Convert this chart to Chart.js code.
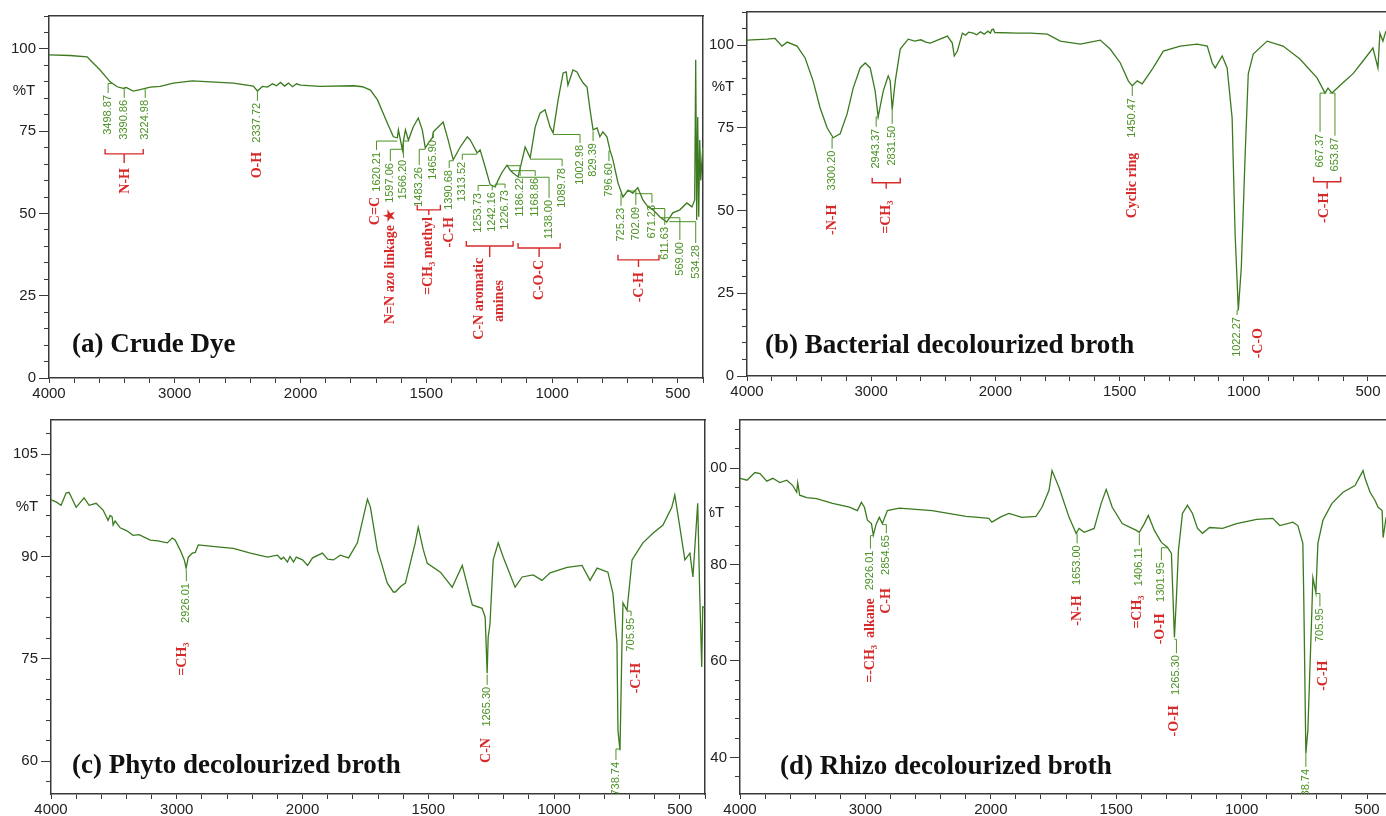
<!DOCTYPE html>
<html>
<head>
<meta charset="utf-8">
<script src="https://cdn.jsdelivr.net/npm/chart.js@4.4.0/dist/chart.umd.min.js"></script>
<style>
  body { margin: 0; background: #fff; width: 1386px; height: 816px; overflow: hidden; position: relative; }
  .panel { position: absolute; }
</style>
</head>
<body>
<div class="panel" style="left:0;top:0;z-index:2"><canvas id="ca" width="706" height="405"></canvas></div>
<div class="panel" style="left:706px;top:0;z-index:1"><canvas id="cb" width="680" height="405"></canvas></div>
<div class="panel" style="left:0;top:408px;z-index:3;background:#fff"><canvas id="cc" width="709" height="408"></canvas></div>
<div class="panel" style="left:690px;top:408px;z-index:1"><canvas id="cd" width="696" height="408"></canvas></div>
<script>
// FTIR spectra: wavenumber (cm-1) and %T
var crudeWn = [4000,3833,3697,3657,3594,3514,3458,3410,3386,3331,3275,3195,3116,3012,2861,2717,2534,2375,2343,2303,2263,2223,2191,2159,2127,2096,2064,2032,2000,1921,1790,1754,1722,1694,1655,1631,1615,1611,1595,1591,1583,1571,1552,1532,1516,1504,1492,1476,1472,1433,1413,1393,1365,1337,1325,1298,1286,1266,1246,1226,1214,1198,1179,1167,1155,1135,1119,1107,1087,1067,1048,1028,1008,996,976,956,944,937,917,901,889,877,861,849,837,821,810,798,782,770,758,738,718,698,679,659,639,619,599,571,544,520,492,464,444,433,429,425,421,417,413,409,401]
var crudeT = [98.2,98.0,97.6,96.0,93.6,90.0,88.5,88.0,88.3,87.2,87.6,88.4,88.6,89.6,90.3,90.0,89.6,88.7,87.2,88.6,88.4,89.4,88.8,89.8,88.7,89.6,88.5,89.4,89.0,88.6,88.8,88.5,87.5,84.5,77.5,73.3,73.0,75.4,69.3,72.0,75.4,72.3,76.3,79.0,75.4,69.9,71.4,73.0,74.8,77.8,72.3,66.3,70.2,73.3,72.3,68.4,69.3,64.1,58.7,58.1,60.2,62.6,64.7,63.2,62.3,61.1,66.3,70.2,66.9,76.3,80.5,81.5,76.3,74.5,84.5,92.7,93.0,89.0,93.6,93.0,91.2,89.7,88.4,81.5,75.4,76.0,73.3,74.8,73.3,69.3,66.3,59.3,55.0,57.1,56.2,57.8,54.1,52.0,51.1,48.9,47.4,50.2,51.1,53.2,52.0,54.1,96.7,48.0,79.3,49.0,72.3,60.0,70.0]

var bactWn = [4000,3839,3774,3718,3677,3597,3532,3468,3411,3355,3306,3250,3194,3145,3089,3048,3008,2968,2944,2903,2863,2847,2831,2806,2766,2702,2650,2600,2560,2524,2387,2347,2331,2306,2266,2240,2215,2177,2150,2120,2090,2060,2040,2030,2016,2005,1912,1859,1791,1739,1658,1578,1538,1497,1465,1449,1429,1409,1365,1324,1256,1188,1147,1127,1115,1087,1067,1047,1035,1022,1010,994,982,962,906,842,774,705,673,661,645,601,561,520,480,460,452,440,428]
var bactT = [101.5,101.8,102.0,99.7,100.9,99.7,96.1,89.2,81.0,75.0,72.0,73.2,79.2,87.0,93.1,94.6,93.1,86.1,78.3,86.1,90.7,89.2,80.5,89.2,98.8,101.8,101.2,101.6,100.9,100.6,102.7,100.6,96.7,98.2,103.6,103.0,103.9,103.6,103.1,104.0,103.3,104.2,103.6,104.6,104.8,103.8,103.6,103.6,103.3,101.2,100.3,101.5,98.8,94.6,89.2,87.7,89.2,88.3,93.1,98.2,99.7,100.3,99.7,94.6,93.1,96.7,93.1,78.0,43.0,19.9,32.8,68.0,91.3,97.3,101.2,99.7,95.8,90.1,85.5,87.0,85.5,88.6,91.3,95.2,99.1,93.1,103.6,101.2,104.2]

var phytoWn = [4000,3960,3920,3880,3857,3800,3737,3697,3641,3586,3546,3530,3514,3506,3490,3450,3400,3347,3300,3211,3150,3076,3036,3012,2972,2940,2926,2908,2876,2853,2829,2677,2550,2414,2279,2200,2170,2151,2120,2100,2072,2050,2000,1980,1960,1921,1900,1877,1850,1817,1782,1758,1742,1730,1702,1690,1663,1639,1631,1610,1591,1552,1540,1520,1504,1452,1405,1365,1325,1286,1274,1266,1262,1255,1242,1222,1202,1155,1127,1083,1048,1016,948,889,857,829,786,766,750,746,738,730,726,710,690,647,607,567,532,520,500,480,460,448,429,421,413,409,401]
var phytoT = [98.3,98.0,97.5,99.3,99.4,97.2,98.6,97.5,97.8,96.8,95.3,96.0,95.8,94.6,95.2,94.2,93.8,93.1,93.2,92.4,92.3,92.0,92.7,92.4,90.9,89.5,88.3,89.9,90.5,90.6,91.7,91.4,91.2,90.5,89.9,90.2,89.6,89.9,89.2,90.0,89.2,89.9,89.5,88.7,89.8,90.5,89.6,89.5,90.2,89.8,92.0,95.8,98.4,97.2,90.9,89.5,86.1,84.8,84.8,85.6,86.1,92.0,94.3,91.0,89.0,87.7,85.5,88.7,82.9,82.4,81.1,72.9,78.2,80.0,89.5,92.0,89.9,85.5,87.0,87.3,86.5,87.6,88.4,88.7,86.5,88.3,87.7,84.6,77.3,64.5,61.6,77.3,83.2,82.1,89.5,92.0,93.4,94.6,97.2,99.0,94.3,89.5,90.5,87.0,97.8,84.6,73.8,82.6,82.6]

var rhizoWn = [4000,3944,3881,3841,3786,3738,3683,3627,3579,3548,3540,3524,3468,3389,3262,3127,3064,3032,3008,2984,2952,2937,2913,2889,2865,2825,2730,2468,2198,2100,2016,1996,1960,1928,1876,1820,1796,1768,1756,1728,1688,1660,1648,1628,1588,1560,1540,1516,1476,1420,1408,1388,1372,1348,1320,1296,1280,1268,1260,1252,1236,1216,1196,1176,1156,1128,1076,1020,940,876,848,796,776,756,752,744,736,720,716,704,696,676,640,596,548,516,508,488,468,456,440,436,424]
var rhizoT = [97.9,97.5,99.1,98.9,97.3,97.9,97.0,97.5,96.4,95.0,97.0,94.4,93.9,93.7,92.7,91.9,91.2,92.9,91.9,89.2,88.5,86.1,88.5,89.8,88.5,91.2,91.7,91.2,90.0,89.8,89.6,88.8,89.9,90.6,89.8,90.0,91.9,95.4,99.5,96.0,89.8,86.5,87.5,86.7,87.5,92.7,95.6,91.9,88.5,87.1,86.7,88.5,90.2,87.1,84.6,83.6,82.3,64.9,73.2,82.9,90.6,92.3,90.6,87.5,86.5,87.7,87.5,88.5,89.4,89.6,88.1,88.8,88.1,84.4,71.9,40.8,45.6,70.5,77.3,74.2,84.4,89.2,92.7,95.0,96.4,99.5,97.9,95.0,93.3,91.9,91.2,85.6,89.8]

// tick labels
var xLabels = [4000, 3000, 2000, 1500, 1000, 500]
var yMajorA = [0, 25, 50, 75, 100]
var yMajorB = [0, 25, 50, 75, 100]
var yMajorC = [60, 75, 90, 105]
var yMajorD = [40, 60, 80, 100]

// peak labels: text, label x (cm-1), label top (%T), peak x, peak %T
var crudePeaks = [
  ['3498.87', 3530, 86.0, 3498, 89.5], ['3390.86', 3402, 84.5, 3391, 88.0], ['3224.98', 3235, 84.5, 3225, 88.0],
  ['2337.72', 2343, 83.6, 2338, 87.0], ['1620.21', 1698, 68.7, 1615, 72.0], ['1597.06', 1643, 65.3, 1597, 69.5],
  ['1566.20', 1591, 66.3, 1571, 72.0], ['1483.26', 1528, 64.1, 1504, 69.5], ['1465.90', 1472, 72.3, 1472, 74.5],
  ['1390.68', 1409, 63.2, 1393, 66.0], ['1313.52', 1357, 65.7, 1298, 68.0], ['1253.73', 1294, 56.2, 1250, 58.5],
  ['1242.16', 1238, 56.5, 1240, 58.5], ['1226.73', 1187, 57.1, 1226, 58.0], ['1186.22', 1127, 60.8, 1179, 64.5],
  ['1168.86', 1067, 60.8, 1167, 63.0], ['1138.00', 1012, 54.1, 1135, 61.0], ['1089.78', 960, 63.8, 1087, 66.5],
  ['1002.98', 889, 70.8, 996, 74.0], ['829.39', 837, 71.4, 837, 75.0], ['796.60', 774, 65.3, 770, 69.0],
  ['725.23', 726, 51.7, 725, 56.0], ['702.09', 667, 52.0, 698, 56.8], ['671.23', 603, 52.6, 671, 56.0],
  ['611.63', 552, 45.9, 611, 51.5], ['569.00', 492, 41.3, 569, 48.7], ['534.28', 429, 40.4, 534, 47.5]
]
var crudeGroups = [
  ['N-H', 3394, 63.8], ['O-H', 2343, 68.7], ['C=C', 1702, 55.0], ['N=N azo linkage \u2605', 1643, 51.5],
  ['=CH\u2083 methyl', 1492, 48.9], ['-C-H', 1409, 48.9], ['C-N aromatic', 1290, 36.5], ['amines', 1210, 29.8],
  ['C-O-C', 1052, 35.9], ['-C-H', 651, 32.2]
]
var crudeBrackets = [[3554, 3251, 68.1, 65.3], [1536, 1444, 51.1, 49.5], [1341, 1155, 40.1, 36.8], [1135, 968, 39.5, 36.8], [738, 575, 35.9, 33.7]]

var bactPeaks = [
  ['3300.20', 3315, 68.1, 3306, 72.0], ['2943.37', 2960, 74.7, 2944, 78.3], ['2831.50', 2831, 75.6, 2831, 80.5],
  ['1450.47', 1449, 84.0, 1449, 87.5], ['1022.27', 1027, 17.8, 1022, 19.9], ['667.37', 693, 73.2, 668, 85.5],
  ['653.87', 633, 72.0, 655, 85.5]
]
var bactGroups = [['-N-H', 3315, 51.8], ['=CH\u2083', 2879, 53.0], ['Cyclic ring', 1449, 67.5], ['-C-O', 942, 14.5], ['-C-H', 676, 55.4]]
var bactBrackets = [[2992, 2766, 58.4, 56.6], [719, 610, 58.7, 56.6]]

var phytoPeaks = [
  ['2926.01', 2924, 86.1, 2926, 88.0], ['1265.30', 1266, 70.9, 1266, 72.7],
  ['738.74', 754, 59.9, 740, 61.8], ['705.95', 694, 81.0, 710, 82.0]
]
var phytoGroups = [['=CH\u2083', 2956, 77.4], ['C-N', 1270, 63.4], ['-C-H', 671, 74.4]]

var rhizoPeaks = [
  ['2926.01', 2960, 82.9, 2937, 86.0], ['2854.65', 2833, 86.1, 2865, 88.3], ['1653.00', 1656, 84.0, 1660, 86.5],
  ['1406.11', 1408, 83.6, 1408, 86.5], ['1301.95', 1320, 80.5, 1296, 83.5], ['1265.30', 1260, 61.2, 1268, 64.5],
  ['705.95', 688, 70.9, 704, 74.0], ['738.74', 744, 37.6, 744, 40.8]
]
var rhizoGroups = [
  ['=-CH\u2083  alkane', 2960, 73.0], ['C-H', 2833, 75.1], ['-N-H', 1656, 73.6], ['=CH\u2083', 1416, 73.6],
  ['-O-H', 1324, 69.9], ['-O-H', 1268, 50.8], ['-C-H', 676, 60.1]
]

var LINE = '#3b7a1f'
var GTXT = '#4b9224'
var RED = '#d62a2a'
var INK = '#222'
var AXIS = '#3a3a3a'

// the x axis is expanded 2x below 2000 cm-1
function toU(wn) { return wn >= 2000 ? 4000 - wn : 2000 + 2 * (2000 - wn) }
function fromU(u) { return u <= 2000 ? 4000 - u : 2000 - (u - 2000) / 2 }

function steps(a, b, s) { var r = []; for (var v = a; v <= b + 1e-6; v += s) r.push(v); return r }

function vtext(ctx, txt, x, y, font, color) {
  ctx.save()
  ctx.translate(x, y)
  ctx.rotate(-Math.PI / 2)
  ctx.font = font
  ctx.fillStyle = color
  ctx.textAlign = 'right'
  ctx.textBaseline = 'middle'
  ctx.fillText(txt, 0, 0)
  ctx.restore()
}

function annotator(cfg) {
  return {
    id: 'annot',
    afterDatasetsDraw: function (chart) {
      var ctx = chart.ctx, xs = chart.scales.x, ys = chart.scales.y, a = chart.chartArea
      function X(w) { return xs.getPixelForValue(toU(w)) }
      function Y(t) { return ys.getPixelForValue(t) }
      ctx.save()
      ctx.beginPath()
      ctx.rect(a.left, a.top, a.right - a.left, a.bottom - a.top)
      ctx.clip()

      ctx.strokeStyle = RED
      ctx.lineWidth = 1.4
      ;(cfg.brackets || []).forEach(function (b) {
        var x1 = X(b[0]), x2 = X(b[1]), y = Y(b[2]), xm = (x1 + x2) / 2
        ctx.beginPath()
        ctx.moveTo(x1, y - 5); ctx.lineTo(x1, y); ctx.lineTo(x2, y); ctx.lineTo(x2, y - 5)
        ctx.moveTo(xm, y); ctx.lineTo(xm, Y(b[3]))
        ctx.stroke()
      })
      cfg.groups.forEach(function (g) {
        vtext(ctx, g[0], X(g[1]), Y(g[2]), 'bold 14px "Liberation Serif"', RED)
      })

      ctx.strokeStyle = GTXT
      ctx.lineWidth = 1
      cfg.peaks.forEach(function (p) {
        var lx = X(p[1]), ly = Y(p[2]), px = X(p[3]), py = Y(p[4])
        vtext(ctx, p[0], lx, ly, '11px "Liberation Sans"', GTXT)
        ctx.beginPath()
        ctx.moveTo(lx, ly - 2)
        ctx.lineTo(lx, Math.min(ly - 6, py))
        ctx.lineTo(px, Math.min(ly - 6, py))
        ctx.lineTo(px, py)
        ctx.stroke()
      })

      ctx.font = 'bold 27px "Liberation Serif"'
      ctx.fillStyle = '#111'
      ctx.textAlign = 'left'
      ctx.textBaseline = 'alphabetic'
      ctx.fillText(cfg.title, a.left + cfg.titleDx, a.bottom + cfg.titleDy)
      ctx.restore()

      ctx.save()
      ctx.font = '15px "Liberation Sans"'
      ctx.fillStyle = INK
      ctx.textAlign = 'center'
      ctx.textBaseline = 'middle'
      ctx.fillText('%T', a.left + cfg.pctDx, Y(cfg.pctT))
      ctx.restore()
    }
  }
}

function makePanel(cfg) {
  var pts = cfg.wn.map(function (w, i) { return { x: toU(w), y: cfg.t[i] } })
  var xTicks = steps(0, cfg.uMax, 200)
  var yMinor = steps(cfg.minorFrom, cfg.yMax, cfg.minorStep)
  var tickFont = { family: 'Liberation Sans', size: 15 }

  var scales = {
    x: {
      type: 'linear', position: 'bottom', min: 0, max: cfg.uMax, weight: 1,
      afterBuildTicks: function (s) { s.ticks = xTicks.map(function (v) { return { value: v } }) },
      afterFit: function (s) { s.height = cfg.xH },
      ticks: {
        autoSkip: false, maxRotation: 0, minRotation: 0, padding: 2, color: INK, font: tickFont,
        callback: function (v) { var w = fromU(v); return xLabels.indexOf(w) >= 0 ? String(w) : '' }
      },
      grid: { drawOnChartArea: false, drawTicks: true, tickLength: 5, color: AXIS, lineWidth: 1 },
      border: { display: true, color: AXIS, width: 1.5 }
    },
    xt: {
      type: 'linear', position: 'top', min: 0, max: cfg.uMax,
      afterFit: function (s) { s.height = 0 },
      ticks: { display: false }, grid: { display: false },
      border: { display: true, color: AXIS, width: 1.5 }
    },
    y: {
      type: 'linear', position: 'left', min: cfg.yMin, max: cfg.yMax, weight: 1,
      afterBuildTicks: function (s) { s.ticks = cfg.yMajor.map(function (v) { return { value: v } }) },
      afterFit: function (s) { s.width = cfg.yW },
      ticks: { padding: 3, color: INK, font: tickFont, callback: function (v) { return String(v) } },
      grid: { drawOnChartArea: false, drawTicks: true, tickLength: 10, color: AXIS, lineWidth: 1 },
      border: { display: true, color: AXIS, width: 1.5 }
    },
    ym: {
      type: 'linear', position: 'left', min: cfg.yMin, max: cfg.yMax, weight: 0,
      afterBuildTicks: function (s) { s.ticks = yMinor.map(function (v) { return { value: v } }) },
      afterFit: function (s) { s.width = 0 },
      ticks: { display: false },
      grid: { drawOnChartArea: false, drawTicks: true, tickLength: 5, color: AXIS, lineWidth: 1 },
      border: { display: false }
    }
  }
  if (cfg.frameRight) {
    scales.yr = {
      type: 'linear', position: 'right', min: cfg.yMin, max: cfg.yMax,
      afterFit: function (s) { s.width = 0 },
      ticks: { display: false }, grid: { display: false },
      border: { display: true, color: AXIS, width: 1.5 }
    }
  }

  new Chart(cfg.id, {
    type: 'line',
    data: {
      datasets: [{
        data: pts, borderColor: LINE, borderWidth: 1.3, pointRadius: 0, tension: 0, fill: false
      }]
    },
    options: {
      responsive: false, animation: false, events: [],
      layout: { padding: { left: 0, top: cfg.padTop, right: cfg.padRight, bottom: 0 } },
      plugins: { legend: { display: false }, tooltip: { enabled: false } },
      scales: scales
    },
    plugins: [annotator(cfg)]
  })
}

makePanel({
  id: 'ca', wn: crudeWn, t: crudeT, uMax: 5200, yMin: 0, yMax: 110, yMajor: yMajorA, minorFrom: 0, minorStep: 5,
  yW: 49, xH: 27, padTop: 16, padRight: 3, frameRight: true,
  peaks: crudePeaks, groups: crudeGroups, brackets: crudeBrackets,
  title: '(a) Crude Dye', titleDx: 23, titleDy: -26, pctDx: -25, pctT: 87.2
})
makePanel({
  id: 'cb', wn: bactWn, t: bactT, uMax: 5145, yMin: 0, yMax: 110, yMajor: yMajorB, minorFrom: 0, minorStep: 5,
  yW: 41, xH: 29, padTop: 12, padRight: 0, frameRight: false,
  peaks: bactPeaks, groups: bactGroups, brackets: bactBrackets,
  title: '(b) Bacterial decolourized broth', titleDx: 18, titleDy: -23, pctDx: -24, pctT: 87.3
})
makePanel({
  id: 'cc', wn: phytoWn, t: phytoT, uMax: 5200, yMin: 55.2, yMax: 110, yMajor: yMajorC, minorFrom: 57, minorStep: 3,
  yW: 51, xH: 22, padTop: 12, padRight: 4, frameRight: true,
  peaks: phytoPeaks, groups: phytoGroups, brackets: [],
  title: '(c) Phyto decolourized broth', titleDx: 21, titleDy: -21, pctDx: -24, pctT: 97.2
})
makePanel({
  id: 'cd', wn: rhizoWn, t: rhizoT, uMax: 5151, yMin: 32.4, yMax: 110, yMajor: yMajorD, minorFrom: 36, minorStep: 4,
  yW: 50, xH: 22, padTop: 12, padRight: 0, frameRight: false,
  peaks: rhizoPeaks, groups: rhizoGroups, brackets: [],
  title: '(d) Rhizo decolourized broth', titleDx: 40, titleDy: -20, pctDx: -27, pctT: 90.8
})
</script>
</body>
</html>
